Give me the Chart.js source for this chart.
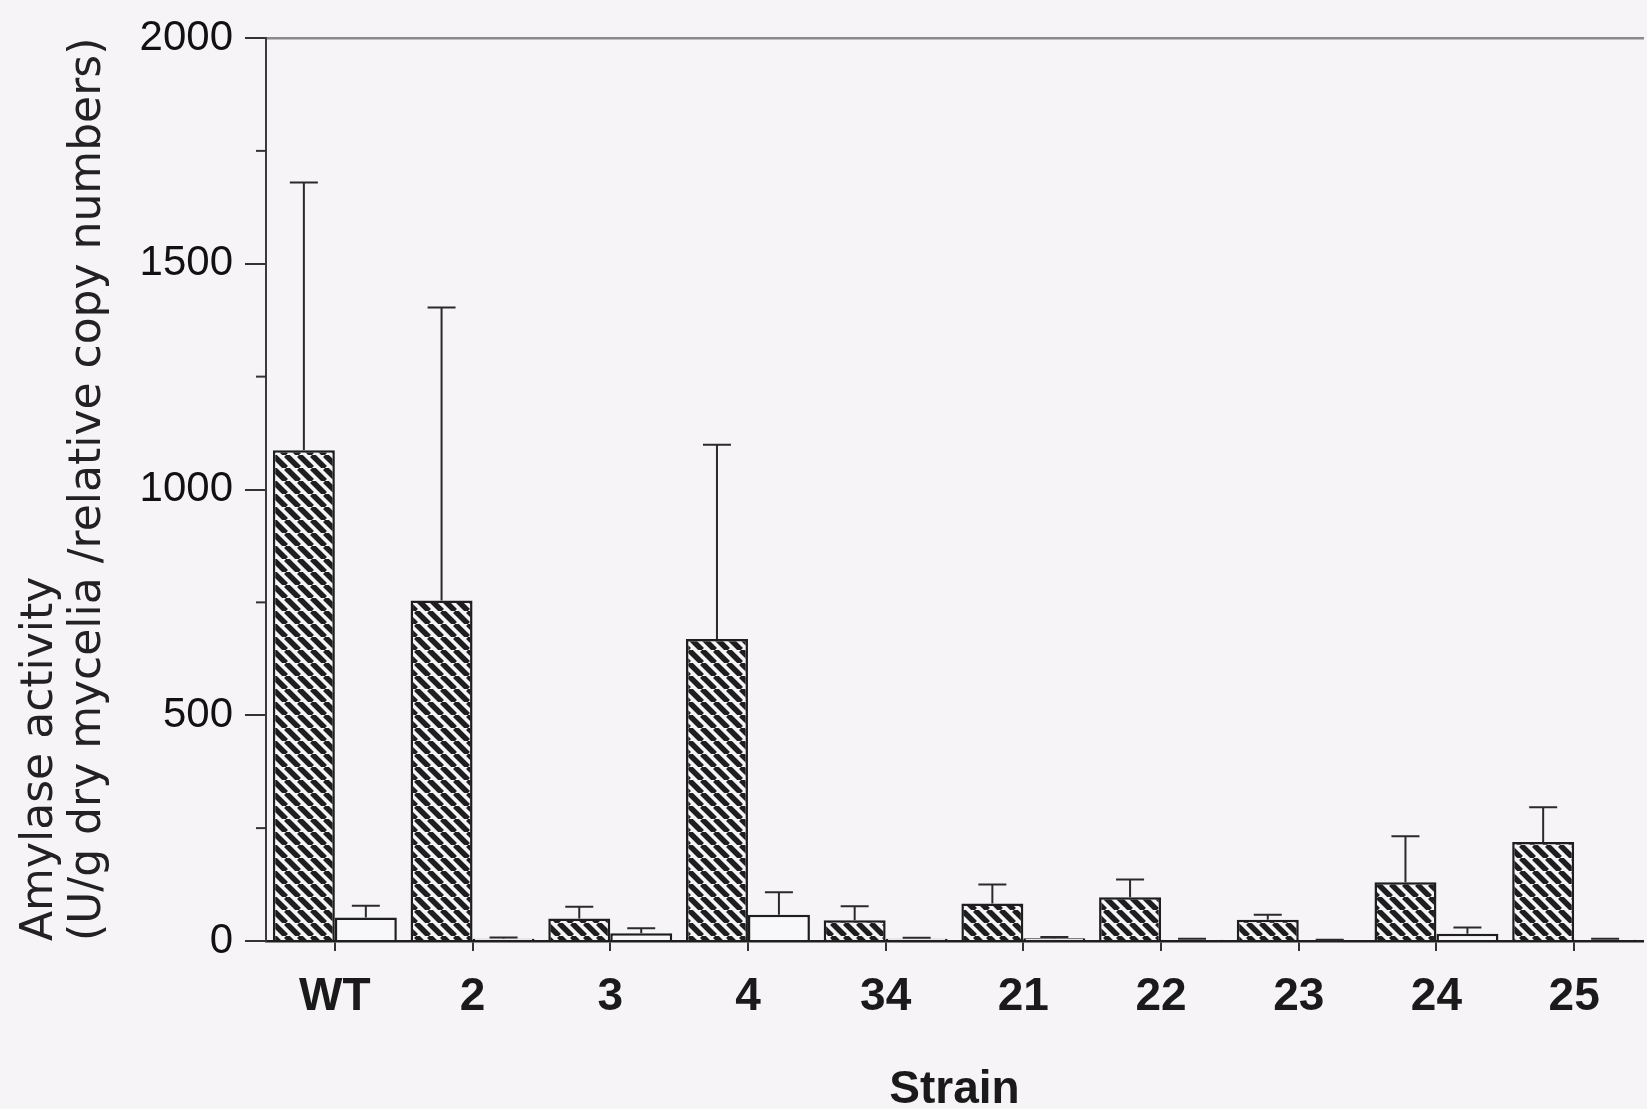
<!DOCTYPE html>
<html>
<head>
<meta charset="utf-8">
<script src="https://cdn.jsdelivr.net/npm/chart.js@4.4.1/dist/chart.umd.min.js"></script>
<style>
  html, body { margin: 0; padding: 0; background: #f6f4f7; overflow: hidden; }
  #wrap { position: relative; width: 1647px; height: 1109px; }
</style>
</head>
<body>
<div id="wrap"><canvas id="chart"></canvas></div>
<script>
// ---------- data ----------
const strains = ['WT', '2', '3', '4', '34', '21', '22', '23', '24', '25'];
const hatchedValues = [1087, 754, 50, 669, 46, 83, 97, 47, 130, 219];
const hatchedErrors = [593, 649, 26, 430, 31, 42, 39, 11, 102, 77];
const openValues = [52, 5, 17, 58, 5, 6, 3, 2, 16, 3];
const openErrors = [26, 3, 11, 50, 2, 3, 2, 1, 14, 2];
const yTicksLabelled = [0, 500, 1000, 1500, 2000];
const yTitle = ['Amylase activity', '(U/g dry mycelia /relative copy numbers)'];
const xTitle = 'Strain';

const INK = '#1e1e1e';
const SANS = "'Liberation Sans', Arial, sans-serif";

// diagonal "\\" hatch fill
function makeHatch(period, width, ink, paper) {
  const c = document.createElement('canvas');
  c.width = period;
  c.height = period;
  const g = c.getContext('2d');
  g.fillStyle = paper;
  g.fillRect(0, 0, period, period);
  g.strokeStyle = ink;
  g.lineWidth = width;
  g.beginPath();
  for (const k of [-1, 0, 1]) {
    g.moveTo(k * period, 0);
    g.lineTo(k * period + period, period);
  }
  g.stroke();
  return g.createPattern(c, 'repeat');
}

// upper error bars with a cap
const errorBars = {
  id: 'errorBars',
  afterDatasetsDraw(chart) {
    const { ctx, scales: { y } } = chart;
    ctx.save();
    ctx.strokeStyle = '#2a2a2a';
    ctx.lineWidth = 2;
    chart.data.datasets.forEach((ds, i) => {
      const meta = chart.getDatasetMeta(i);
      meta.data.forEach((bar, j) => {
        const top = y.getPixelForValue(ds.data[j] + ds.errors[j]);
        ctx.beginPath();
        ctx.moveTo(bar.x, bar.y);
        ctx.lineTo(bar.x, top);
        ctx.moveTo(bar.x - 14, top);
        ctx.lineTo(bar.x + 14, top);
        ctx.stroke();
      });
    });
    ctx.restore();
  }
};

// short minor ticks on the y axis
const minorTicks = {
  id: 'minorTicks',
  afterDraw(chart) {
    const { ctx, scales: { y }, chartArea } = chart;
    ctx.save();
    ctx.strokeStyle = '#333';
    ctx.lineWidth = 2;
    y.ticks.forEach(t => {
      if (yTicksLabelled.includes(t.value)) return;
      const py = y.getPixelForValue(t.value);
      ctx.beginPath();
      ctx.moveTo(chartArea.left - 10, py);
      ctx.lineTo(chartArea.left, py);
      ctx.stroke();
    });
    ctx.restore();
  }
};

new Chart(document.getElementById('chart'), {
  type: 'bar',
  data: {
    labels: strains,
    datasets: [{
      label: 'Hatched',
      data: hatchedValues,
      errors: hatchedErrors,
      backgroundColor: makeHatch(13, 5.5, INK, '#f6f4f7'),
      borderColor: INK,
      borderWidth: 2.5,
      categoryPercentage: 0.9,
      barPercentage: 1.0
    }, {
      label: 'Open',
      data: openValues,
      errors: openErrors,
      backgroundColor: '#f8f7f9',
      borderColor: INK,
      borderWidth: 2.5,
      categoryPercentage: 0.9,
      barPercentage: 1.0
    }]
  },
  options: {
    responsive: true,
    maintainAspectRatio: false,
    animation: false,
    layout: { padding: { top: 30, right: 4, bottom: 0, left: 0 } },
    plugins: {
      legend: { display: false },
      tooltip: { enabled: false }
    },
    scales: {
      x: {
        afterFit: (s) => { s.height = 168; },
        border: { color: INK, width: 2.5 },
        grid: { drawOnChartArea: false, offset: false, tickLength: 10, lineWidth: 2, color: '#333' },
        ticks: { padding: 19, color: '#1a1a1a', font: { family: SANS, size: 46, weight: 'bold' } },
        title: {
          display: true,
          text: xTitle,
          color: '#1a1a1a',
          padding: { top: 0, bottom: 0 },
          font: { family: SANS, size: 46, weight: 'bold', lineHeight: 0.8 }
        }
      },
      x2: {
        position: 'top',
        grid: { display: false },
        ticks: { display: false },
        border: { color: '#8a8a8a', width: 2.5 }
      },
      y: {
        min: 0,
        max: 2000,
        afterFit: (s) => { s.width = 266; },
        border: { color: '#3a3a3a', width: 2 },
        grid: {
          drawOnChartArea: false,
          tickLength: 21,
          lineWidth: 2,
          tickColor: (c) => (c.tick && yTicksLabelled.includes(c.tick.value)) ? '#333' : 'rgba(0,0,0,0)'
        },
        ticks: {
          stepSize: 250,
          padding: 12,
          color: '#111',
          font: { family: SANS, size: 42 },
          callback: (v) => yTicksLabelled.includes(v) ? v : ''
        },
        title: {
          display: true,
          align: 'start',
          text: yTitle,
          color: '#222',
          padding: { top: 16, bottom: 0 },
          font: { family: "'DejaVu Sans', sans-serif", size: 44, lineHeight: 1.1 }
        }
      }
    }
  },
  plugins: [errorBars, minorTicks]
});
</script>
</body>
</html>
